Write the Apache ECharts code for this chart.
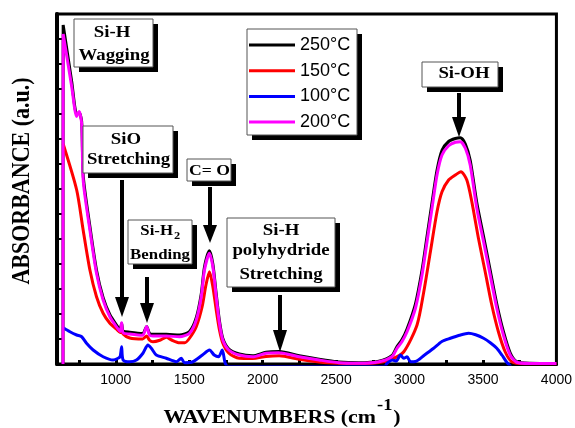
<!DOCTYPE html>
<html><head><meta charset="utf-8">
<script src="https://cdn.jsdelivr.net/npm/echarts@6/dist/echarts.min.js"></script>
<style>html,body{margin:0;padding:0;background:#fff}#c{width:575px;height:428px}</style>
</head><body><div id="c"></div>
<script>
// ---- data ----
const wn250 = [641,642,700,734,751,768,779,824,869,914,960,1005,1030,1040,1050,1095,1183,1210,1230,1253,1344,1434,1502,1548,1582,1604,1638,1661,1684,1706,1729,1770,1841,1932,2023,2113,2249,2384,2520,2655,2791,2881,2915,2949,2983,3040,3085,3119,3153,3187,3221,3266,3312,3346,3380,3413,3458,3504,3549,3594,3639,3685,3729,3820,4000];
const ab250 = [0,13.56,11.3,10.0,10.05,9.7,7.5,5.5,3.75,2.65,1.97,1.56,1.37,1.62,1.32,1.27,1.22,1.5,1.22,1.19,1.19,1.16,1.3,1.85,2.8,3.88,4.53,4.0,2.8,1.72,1.02,0.6,0.4,0.33,0.47,0.5,0.33,0.19,0.08,0.05,0.11,0.34,0.7,0.98,1.4,2.4,3.75,5.1,6.45,7.75,8.55,8.9,9.02,9.05,8.8,8.15,6.45,5.1,3.75,2.4,1.3,0.45,0.1,0.03,0.02];

const wn150 = [642,734,778,824,869,914,960,1005,1030,1040,1050,1095,1183,1210,1230,1253,1300,1344,1380,1434,1470,1502,1548,1588,1614,1638,1661,1684,1706,1729,1770,1841,1932,2023,2113,2249,2384,2520,2655,2791,2881,2961,3051,3097,3142,3187,3221,3266,3312,3350,3390,3424,3469,3515,3560,3605,3651,3696,3780,4000];
const ab150 = [8.8,6.96,5.36,3.76,2.69,2.03,1.63,1.39,1.26,1.4,1.2,1.04,1.0,1.12,0.95,0.89,0.95,1.07,0.96,0.85,0.85,1.03,1.49,2.29,3.16,3.69,3.09,2.16,1.36,0.83,0.43,0.23,0.22,0.3,0.33,0.19,0.08,0.03,0.02,0.06,0.2,0.49,1.56,2.89,4.49,6.09,6.89,7.36,7.56,7.69,7.36,6.49,5.03,3.69,2.36,1.29,0.49,0.09,0.01,0.01];

const wn100 = [643,688,734,768,801,846,914,982,1016,1030,1040,1050,1095,1141,1185,1219,1242,1276,1344,1412,1446,1468,1525,1590,1638,1670,1700,1725,1745,1765,2830,2847,2881,2910,2938,2961,2983,3006,3040,3100,3164,3220,3278,3340,3402,3450,3504,3550,3594,3630,3662,3690];
const ab100 = [1.45,1.29,1.16,1.09,0.83,0.56,0.29,0.16,0.23,0.3,0.69,0.16,0.09,0.16,0.43,0.76,0.63,0.36,0.23,0.09,0.23,0.05,0.09,0.36,0.56,0.36,0.29,0.56,0.03,-0.1,-0.1,0.03,0.16,0.12,0.36,0.23,0.29,0.09,0.1,0.35,0.63,0.9,1.03,1.15,1.23,1.17,1.03,0.85,0.63,0.35,0.07,-0.1];

const wn200 = [641,642,700,734,751,768,779,824,869,914,960,1005,1030,1040,1050,1095,1183,1210,1230,1253,1344,1434,1502,1548,1582,1604,1638,1661,1684,1706,1729,1770,1841,1932,2023,2113,2249,2384,2520,2655,2791,2881,2915,2949,2983,3040,3085,3119,3153,3187,3221,3266,3312,3346,3380,3413,3458,3504,3549,3594,3639,3685,3729,3820,4000];
const ab200 = [0,13.2,11.1,9.9,10.1,9.6,7.3,5.36,3.63,2.56,1.89,1.49,1.3,1.65,1.25,1.2,1.15,1.5,1.15,1.12,1.12,1.09,1.23,1.76,2.69,3.76,4.43,3.89,2.69,1.63,0.96,0.56,0.36,0.29,0.43,0.45,0.29,0.16,0.05,0.03,0.09,0.3,0.63,0.9,1.29,2.23,3.56,4.89,6.23,7.56,8.36,8.73,8.87,8.89,8.63,7.96,6.23,4.89,3.56,2.23,1.16,0.36,0.07,0.02,0.02];

const seriesNames = ['250°C','150°C','100°C','200°C'];
const xLabelValues = [1000,1500,2000,2500,3000,3500,4000];
const xTickValues = [750,1000,1250,1500,1750,2000,2250,2500,2750,3000,3250,3500,3750];

// ---- helpers ----
const zip = (a,b) => a.map((v,i)=>[v,b[i]]);
const SERIF = '"Liberation Serif","Times New Roman",serif';
const SANS = '"Liberation Sans",Arial,sans-serif';
const mctx = document.createElement('canvas').getContext('2d');
function tw(t,font){ mctx.font = font; return mctx.measureText(t).width; }

function txt(s,x,y,size,opts){
  opts = opts || {};
  const font = 'bold ' + size + 'px ' + SERIF;
  return {type:'text', z:22, x:x, y:y, scaleX:opts.sx||1.14, scaleY:opts.sy||1, rotation:opts.rot||0, silent:true,
    style:{text:s, font:font, fill:'#000', textAlign:opts.align||'center', align:opts.align||'center',
      textVerticalAlign:'middle', verticalAlign:'middle'}};
}
function box(x,y,w,h){
  return [
    {type:'rect', z:20, silent:true, shape:{x:x+5,y:y+5,width:w,height:h}, style:{fill:'#000'}},
    {type:'rect', z:21, silent:true, shape:{x:x,y:y,width:w,height:h}, style:{fill:'#fff', stroke:'#555', lineWidth:1}}
  ];
}
function arrow(x,y1,yHead,yTip){
  return [
    {type:'line', z:22, silent:true, shape:{x1:x,y1:y1,x2:x,y2:yHead+3}, style:{stroke:'#000', lineWidth:4}},
    {type:'polygon', z:22, silent:true, shape:{points:[[x-7,yHead],[x+7,yHead],[x,yTip]]}, style:{fill:'#000'}}
  ];
}

const g = [];
// legend frame
g.push({type:'rect', z:1, silent:true, shape:{x:252,y:34,width:110,height:106}, style:{fill:'#000'}});
g.push({type:'rect', z:1, silent:true, shape:{x:247,y:29,width:110,height:106}, style:{fill:'#fff', stroke:'#555', lineWidth:1}});
// Si-H Wagging
g.push(...box(74,19,79,48)); g.push(txt('Si-H',112,33,16.5)); g.push(txt('Wagging',114,55.5,16.5));
// SiO Stretching
g.push(...box(83,126,90,47)); g.push(txt('SiO',126,140,16.5)); g.push(txt('Stretching',128.5,160,16.5));
g.push(...arrow(122,180,297,317));
// C= O
g.push(...box(187,159,44,22)); g.push(txt('C= O',209.5,171,15.5));
g.push(...arrow(210,187,225,243));
// Si-H2 Bending
g.push(...box(128,220,64,44));
g.push(txt('Si-H',173,231,15,{align:'right',sx:1.12}));
g.push(txt('2',174,236,11,{align:'left',sx:1.12}));
g.push(txt('Bending',160,255.5,15,{sx:1.12}));
g.push(...arrow(147,277,303,323));
// Si-H polyhydride Stretching
g.push(...box(227,218,108,69));
g.push(txt('Si-H',281,231,16.5)); g.push(txt('polyhydride',281,251,16.5)); g.push(txt('Stretching',281,274.5,16.5));
g.push(...arrow(280,295,330,352));
// Si-OH
g.push(...box(422,62,76,25)); g.push(txt('Si-OH',464,74,16.5));
g.push(...arrow(459,93,117,137));

// axis titles
g.push(txt('ABSORBANCE (a.u.)',23,181,22,{rot:Math.PI/2, sx:1, sy:1.12}));
const fMain = 'bold 19px ' + SERIF, fSup = 'bold 16px ' + SERIF, SX = 1.15;
const wA = tw('WAVENUMBERS (cm', fMain)*SX, wS = tw('-1', fSup)*SX, wP = tw(')', fMain)*SX;
const x0 = 281 - (wA+wS+wP)/2;
g.push(txt('WAVENUMBERS (cm', x0, 418.5, 19, {align:'left', sx:SX}));
g.push(txt('-1', x0+wA+1, 406, 16, {align:'left', sx:SX}));
g.push(txt(')', x0+wA+wS+2, 418.5, 19, {align:'left', sx:SX}));

const colors = ['#000000','#ff0000','#0000ff','#ff00ff'];
const datasets = [zip(wn250,ab250), zip(wn150,ab150), zip(wn100,ab100), zip(wn200,ab200)];

const chart = echarts.init(document.getElementById('c'), null, {renderer:'canvas'});
chart.setOption({
  animation:false,
  backgroundColor:'#fff',
  grid:{left:57, right:17, top:14, bottom:64, show:true, borderColor:'#000', borderWidth:3, backgroundColor:'transparent'},
  legend:{orient:'vertical', left:249, top:35, icon:'rect', itemWidth:46, itemHeight:3, itemGap:5.7, padding:0, z:5,
    data:['250°C','150°C','100°C','200°C'], selectedMode:false,
    textStyle:{fontFamily:SANS, fontSize:18, lineHeight:20, color:'#000'}},
  xAxis:{type:'value', min:600, max:4000,
    axisLine:{show:true, onZero:false, lineStyle:{color:'#000', width:3}},
    axisTick:{show:true, inside:true, length:4, customValues:xTickValues, lineStyle:{color:'#000', width:3}},
    axisLabel:{show:true, customValues:xLabelValues, formatter:(v)=>String(v), fontFamily:SANS, fontSize:14, color:'#000', margin:9},
    splitLine:{show:false}},
  yAxis:{type:'value', min:0, max:14, interval:1,
    axisLine:{show:true, lineStyle:{color:'#000', width:4}},
    axisTick:{show:true, inside:true, length:5, lineStyle:{color:'#000', width:2}},
    axisLabel:{show:false}, splitLine:{show:false}},
  series: seriesNames.map((n,i)=>({name:n, type:'line', data:datasets[i], symbol:'none', smooth:0.25, clip:true,
    lineStyle:{color:colors[i], width:3}, itemStyle:{color:colors[i]}, z:2})),
  graphic:{elements:g}
});
</script></body></html>
